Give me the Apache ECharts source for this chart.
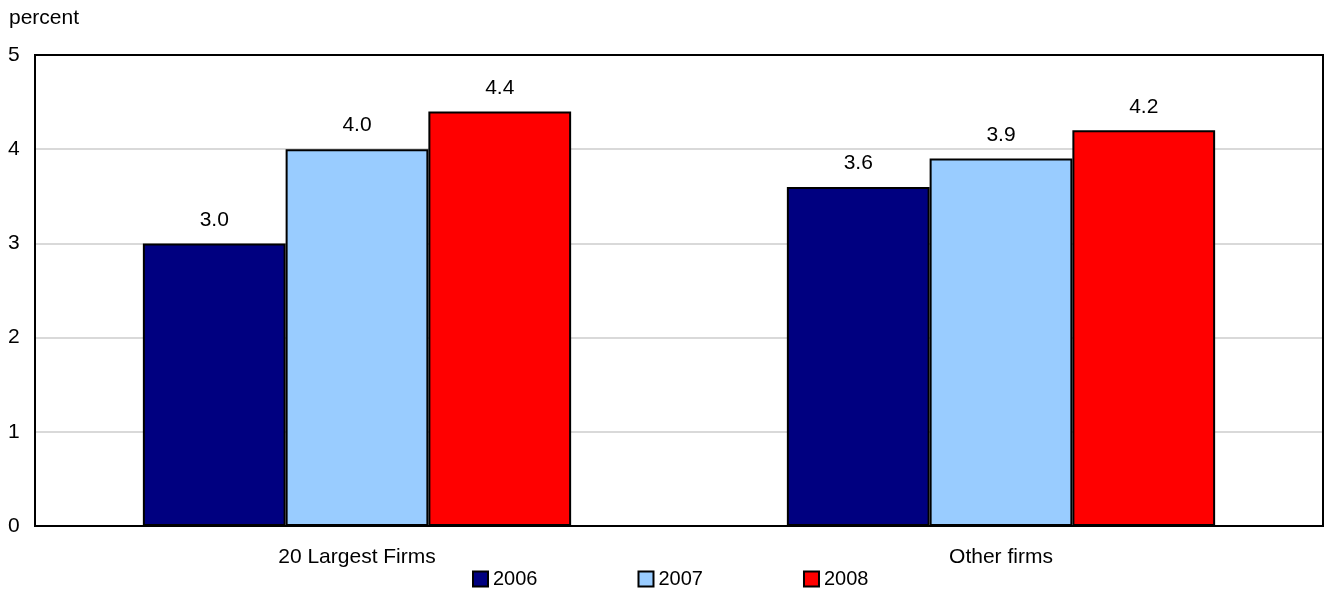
<!DOCTYPE html>
<html>
<head>
<meta charset="utf-8">
<script src="https://cdn.jsdelivr.net/npm/echarts@6/dist/echarts.min.js"></script>
<style>
  html, body { margin: 0; padding: 0; background: #fff; }
  #chart { width: 1330px; height: 594px; }
</style>
</head>
<body>
<div id="chart"></div>
<script>
// Category labels, years and values (percent)
const categories = ['20 Largest Firms', 'Other firms'];
const years = ['2006', '2007', '2008'];
const values2006 = [3.0, 3.6];
const values2007 = [4.0, 3.9];
const values2008 = [4.4, 4.2];
const yTicks = [0, 1, 2, 3, 4, 5];

const colors = ['#000080', '#99ccff', '#ff0000'];
const seriesValues = [values2006, values2007, values2008];
const font = 'Liberation Sans, Arial, Helvetica, sans-serif';
const fs = 21;
const W = 1330, H = 594;
const plot = { left: 35, right: 7, top: 55, bottom: 68 };

const chart = echarts.init(document.getElementById('chart'));
chart.setOption({
  animation: false,
  textStyle: { fontFamily: font },
  grid: plot,
  graphic: [{
    type: 'text', left: 9, top: 8,
    style: { text: 'percent', font: fs + 'px ' + font, fill: '#000' }
  }, {
    // black frame around the plot area, drawn over the gridlines
    type: 'rect', z: 100, silent: true,
    shape: {
      x: plot.left, y: plot.top,
      width: W - plot.left - plot.right, height: H - plot.top - plot.bottom
    },
    style: { fill: 'none', stroke: '#000', lineWidth: 2 }
  }],
  legend: {
    data: years,
    bottom: 0,
    left: 467,
    itemWidth: 15, itemHeight: 15,
    itemGap: 100,
    textStyle: { fontSize: 20, color: '#000' },
    icon: 'rect'
  },
  xAxis: {
    type: 'category',
    data: categories,
    axisLine: { show: false },
    axisTick: { show: false },
    axisLabel: { fontSize: fs, color: '#000', margin: 21 }
  },
  yAxis: {
    type: 'value',
    min: yTicks[0], max: yTicks[yTicks.length - 1], interval: 1,
    axisLine: { show: false },
    axisTick: { show: false },
    splitLine: { lineStyle: { color: '#d9d9d9', width: 2 } },
    axisLabel: { fontSize: fs, color: '#000', margin: 17, align: 'left', padding: [0, 0, 0, -10] }
  },
  series: years.map((y, i) => ({
    name: y,
    type: 'bar',
    data: seriesValues[i],
    barGap: '0%',
    barCategoryGap: '33.5%',
    itemStyle: { color: colors[i], borderColor: '#000', borderWidth: 2 },
    label: {
      show: true, position: 'top', distance: 13,
      fontSize: fs, color: '#000',
      formatter: p => p.value.toFixed(1)
    }
  }))
});
</script>
</body>
</html>
